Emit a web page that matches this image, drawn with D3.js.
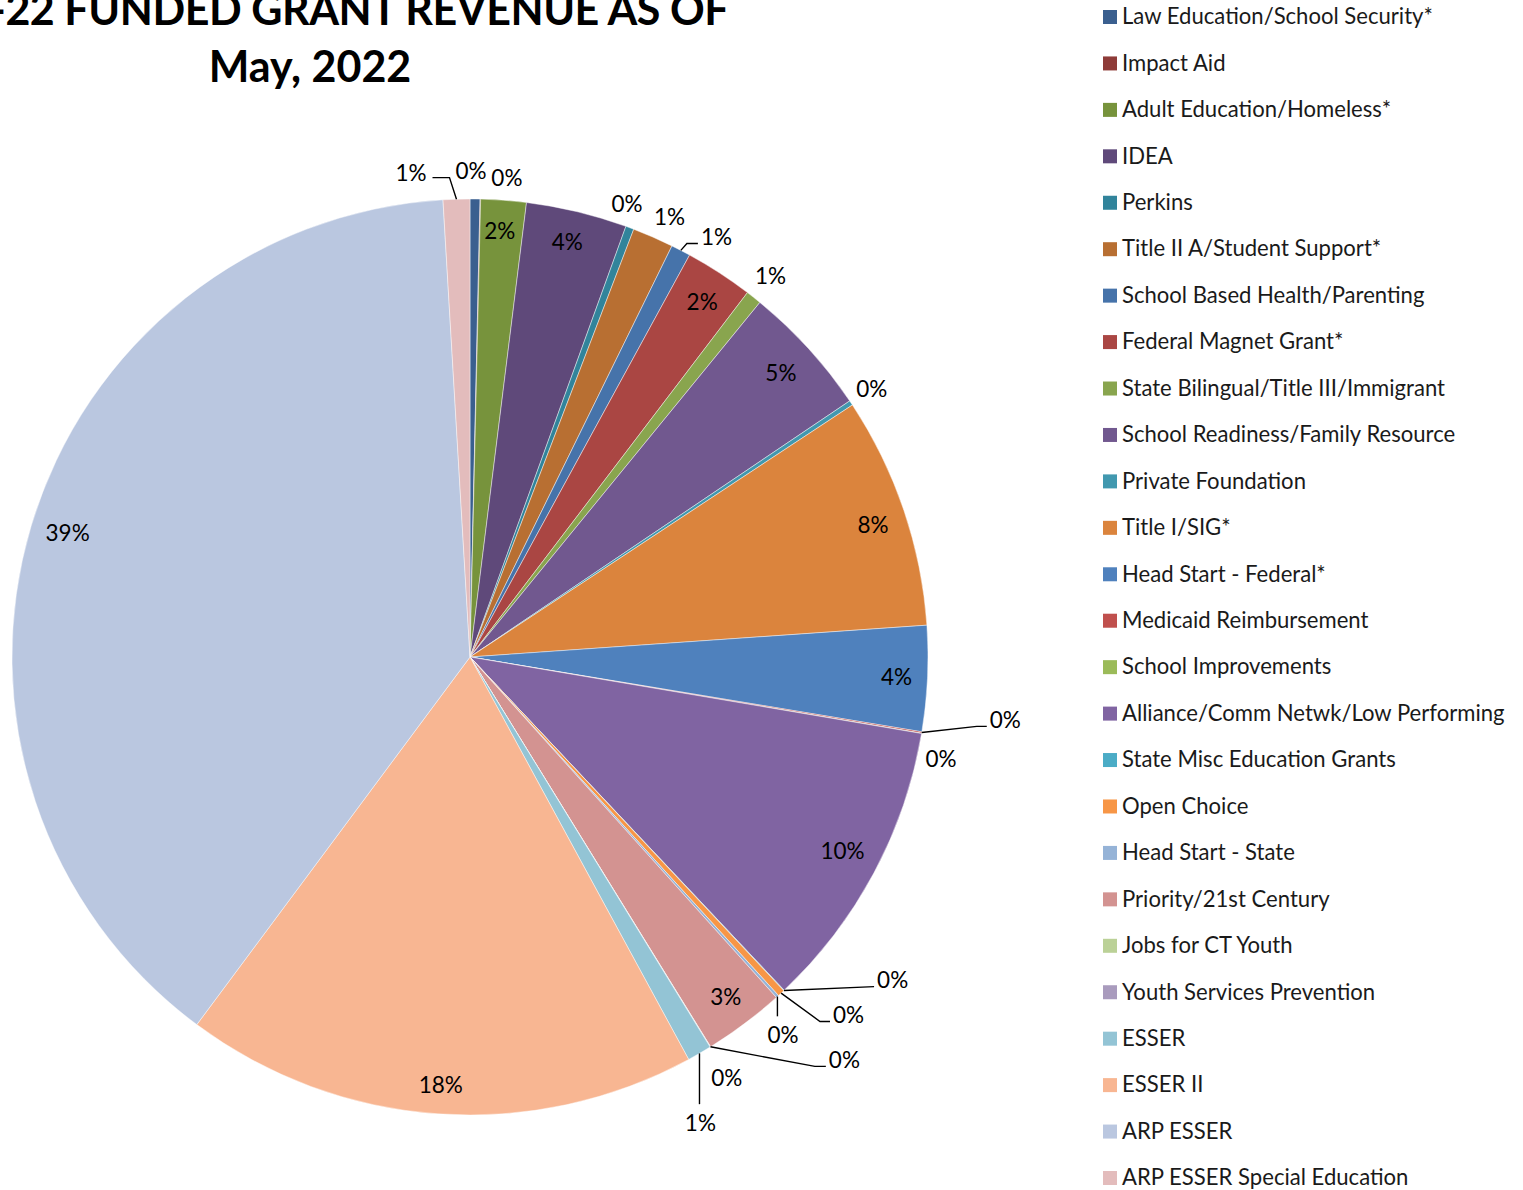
<!DOCTYPE html>
<html>
<head>
<meta charset="utf-8">
<script src="https://cdn.jsdelivr.net/npm/d3@7"></script>
<style>
  html, body { margin: 0; padding: 0; background: #fff; }
  svg { display: block; }
  text { font-family: Lato, "Open Sans", "DejaVu Sans", sans-serif; }
</style>
</head>
<body>
<svg id="chart" width="1523" height="1190"></svg>
<script>
// Grant categories, in pie order (clockwise from 12 o'clock)
const categories = [
  "Law Education/School Security*",
  "Impact Aid",
  "Adult Education/Homeless*",
  "IDEA",
  "Perkins",
  "Title II A/Student Support*",
  "School Based Health/Parenting",
  "Federal Magnet Grant*",
  "State Bilingual/Title III/Immigrant",
  "School Readiness/Family Resource",
  "Private Foundation",
  "Title I/SIG*",
  "Head Start - Federal*",
  "Medicaid Reimbursement",
  "School Improvements",
  "Alliance/Comm Netwk/Low Performing",
  "State Misc Education Grants",
  "Open Choice",
  "Head Start - State",
  "Priority/21st Century",
  "Jobs for CT Youth",
  "Youth Services Prevention",
  "ESSER",
  "ESSER II",
  "ARP ESSER",
  "ARP ESSER Special Education"
];

// Share of funded grant revenue (percent)
const shares = [
  0.35, 0.02, 1.60, 3.56, 0.29, 1.45, 0.69, 2.40, 0.55, 4.65,
  0.17, 8.17, 3.72, 0.05, 0.01, 10.30, 0.02, 0.25, 0.10, 2.86,
  0.01, 0.01, 0.86, 18.10, 38.90, 0.94
];

const colors = [
  "#3A5F8F", "#8E3B38", "#77933C", "#5F497A", "#31849B", "#B86F32",
  "#4673AA", "#AA4643", "#89A54E", "#71588F", "#4198AF", "#DB843D",
  "#4F81BD", "#C0504D", "#9BBB59", "#8064A2", "#4BACC6", "#F79646",
  "#95B3D7", "#D39391", "#BBD197", "#A99BBD", "#93C4D5", "#F8B692",
  "#BAC7E0", "#E3BCBC"
];

const titleLines = ["2021-22 FUNDED GRANT REVENUE AS OF", "May, 2022"];

// Where each slice's percentage label sits, in polar terms
// (degrees clockwise from 12 o'clock, px from the centre). Labels
// outside the pie may be joined to their slice by a leader line.
const labelLayout = [
  { at: "out", angle: 0.12, r: 486 },
  { at: "out", angle: 4.4, r: 481 },
  { at: "in", angle: 4.0, r: 427 },
  { at: "in", angle: 13.2, r: 426 },
  { at: "out", angle: 19.1, r: 480 },
  { at: "out", angle: 24.4, r: 483 },
  { at: "out", angle: 30.4, r: 487, leader: "left", stub: 11 },
  { at: "in", angle: 33.2, r: 424 },
  { at: "out", r: 485 },
  { at: "in", angle: 47.6, r: 421 },
  { at: "out", r: 483 },
  { at: "in", angle: 71.9, r: 424 },
  { at: "in", angle: 92.7, r: 427 },
  { at: "out", angle: 96.7, r: 539, leader: "left", stub: 10 },
  { at: "out", angle: 102.2, r: 482 },
  { at: "in", angle: 117.5, r: 420 },
  { at: "out", angle: 127.4, r: 532, leader: "left", stub: 0 },
  { at: "out", angle: 133.4, r: 521, leader: "left", stub: 10 },
  { at: "out", angle: 140.4, r: 491, leader: "top" },
  { at: "in", angle: 143.0, r: 425 },
  { at: "out", angle: 137.1, r: 550, leader: "left", stub: 11 },
  { at: "out", angle: 148.6, r: 493 },
  { at: "out", angle: 153.7, r: 520, leader: "top" },
  { at: "in", angle: 183.9, r: 429 },
  { at: "in", angle: 287.1, r: 421 },
  { at: "out", angle: 353.05, r: 488, leader: "right", stub: 17 }
];

const cx = 470, cy = 657, radius = 458;
const labelFont = 22.5;
const legendFont = 22.1;

const svg = d3.select("#chart");

// Title (its first line runs off the left edge of the page)
const title = svg.append("g").attr("font-weight", 700).attr("font-size", 43)
  .attr("text-anchor", "middle").attr("fill", "#000");
title.append("text").attr("x", 310).attr("y", 25)
  .attr("letter-spacing", -0.45).text(titleLines[0]);
title.append("text").attr("x", 310).attr("y", 82).text(titleLines[1]);

// Pie
const total = d3.sum(shares);
const data = categories.map((c, i) => ({ name: c, value: shares[i], color: colors[i], layout: labelLayout[i] }));
const pie = d3.pie().value(d => d.value).sort(null).startAngle(0).endAngle(2 * Math.PI);
const arcs = pie(data);
const arc = d3.arc().innerRadius(0).outerRadius(radius);
const pct = d3.format(".0%");

const g = svg.append("g").attr("transform", `translate(${cx},${cy})`);

g.selectAll("path.slice").data(arcs).join("path")
  .attr("class", "slice")
  .attr("d", arc)
  .attr("fill", d => d.data.color)
  .attr("stroke", "#ffffff")
  .attr("stroke-opacity", 0.55)
  .attr("stroke-width", 0.8);

const polar = (deg, r) => {
  const a = deg * Math.PI / 180;
  return [r * Math.sin(a), -r * Math.cos(a)];
};
const midDeg = d => ((d.startAngle + d.endAngle) / 2) * 180 / Math.PI;

const labels = g.append("g").attr("font-size", labelFont).attr("fill", "#000");

arcs.forEach(d => {
  const L = d.data.layout;
  const mid = midDeg(d);
  const pos = polar(L.angle !== undefined ? L.angle : mid, L.r);
  const t = labels.append("text")
    .attr("x", pos[0]).attr("y", pos[1])
    .attr("dy", "0.36em")
    .attr("text-anchor", "middle")
    .text(pct(d.value / total));

  if (L.leader) {
    const hw = t.node().getComputedTextLength() / 2;
    const start = polar(mid, radius);
    let pts;
    if (L.leader === "left") {
      const end = [pos[0] - hw - 3, pos[1] + 6.5];
      pts = [start, [end[0] - L.stub, end[1]], end];
    } else if (L.leader === "right") {
      const end = [pos[0] + hw + 6, pos[1] + 5];
      pts = [start, [end[0] + L.stub, end[1]], end];
    } else {
      pts = [start, [start[0], pos[1] - 19]];
    }
    labels.append("path")
      .attr("d", d3.line()(pts))
      .attr("fill", "none")
      .attr("stroke", "#000")
      .attr("stroke-width", 1.4);
  }
});

// Legend
const legendY = d3.scalePoint().domain(categories).range([17, 1178]);
const legend = svg.append("g").attr("font-size", legendFont).attr("fill", "#1a1a1a");
const rows = legend.selectAll("g").data(data).join("g")
  .attr("transform", d => `translate(1103,${legendY(d.name)})`);
rows.append("rect").attr("x", 0).attr("y", -7).attr("width", 14).attr("height", 14)
  .attr("fill", d => d.color);
rows.append("text").attr("x", 19).attr("y", 0).attr("dy", "0.33em").text(d => d.name);
</script>
</body>
</html>
